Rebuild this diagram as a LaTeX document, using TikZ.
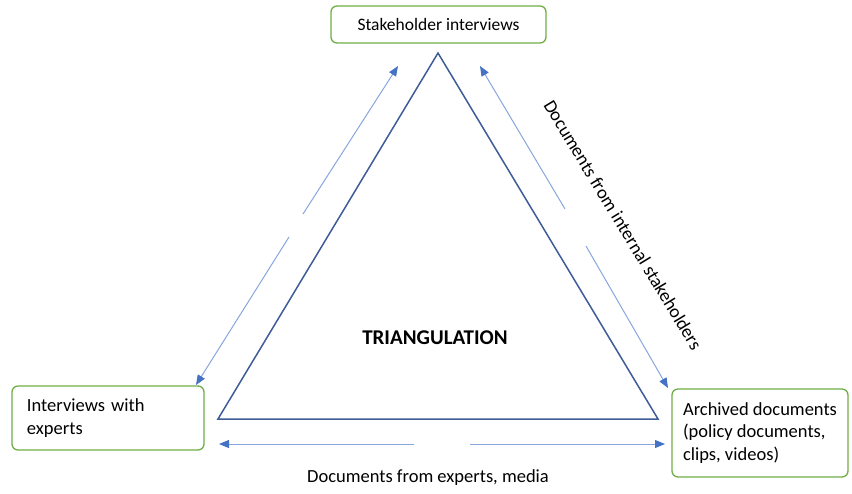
\documentclass[tikz,border=0pt]{standalone}
\usepackage{fontspec}
\setmainfont{Carlito}
\usetikzlibrary{arrows.meta}
\definecolor{boxgreen}{RGB}{112,173,71}
\definecolor{tridark}{RGB}{61,92,152}
\definecolor{tipblue}{RGB}{68,114,196}
\definecolor{flowblue}{RGB}{135,166,222}

\begin{document}
\begin{tikzpicture}[x=1pt, y=-1pt, font=\fontsize{18.5}{22.5}\selectfont,
  source/.style={draw=boxgreen, line width=1.3pt, rounded corners=6pt,
    inner xsep=15pt, inner ysep=0pt, align=left},
  flow/.style={draw=flowblue, line width=1pt,
    -{Triangle[length=10pt, width=8pt, color=tipblue]}}]
  \useasboundingbox (0,0) rectangle (852,493);
  % the three sources
  \node[source, align=center, minimum width=215pt, minimum height=37pt,
    font=\fontsize{17.5}{21}\selectfont]
    (stake) at (438.5,24.5) {Stakeholder interviews};
  \node[source, text width=162pt, minimum height=64pt]
    (experts) at (108,418) {Interviews with\\experts};
  \node[source, inner xsep=6pt, minimum width=176pt, minimum height=88pt]
    (archive) at (760,433) {Archived documents\\(policy documents,\\clips, videos)};
  % triangle
  \coordinate (apex) at (438,53);
  \coordinate (lcorner) at (218,419);
  \coordinate (rcorner) at (658,419);
  \draw[tridark, line width=1.5pt] (apex) -- (lcorner) -- (rcorner) -- cycle;
  \node[font=\fontsize{21}{24}\selectfont\bfseries] (tri) at (435,338) {TRIANGULATION};
  % left side: experts <-> stakeholders
  \coordinate (lup0) at (303,214);  \coordinate (lup1) at (398,66);
  \coordinate (ldn0) at (289,237);  \coordinate (ldn1) at (196,385);
  \draw[flow] (lup0) -- (lup1);
  \draw[flow] (ldn0) -- (ldn1);
  % right side: stakeholders <-> archive
  \coordinate (rup0) at (565,209);  \coordinate (rup1) at (480,66);
  \coordinate (rdn0) at (586,246);  \coordinate (rdn1) at (668,388);
  \draw[flow] (rup0) -- (rup1);
  \draw[flow] (rdn0) -- (rdn1);
  \node[rotate=-58.8] (intdocs) at (623,225) {Documents from internal stakeholders};
  % bottom: experts <-> archive
  \coordinate (bl0) at (414,444);  \coordinate (bl1) at (219,444);
  \coordinate (br0) at (470,444);  \coordinate (br1) at (665,444);
  \draw[flow] (bl0) -- (bl1);
  \draw[flow] (br0) -- (br1);
  \node (extdocs) at (428,478) {Documents from experts, media};
\end{tikzpicture}
\end{document}
